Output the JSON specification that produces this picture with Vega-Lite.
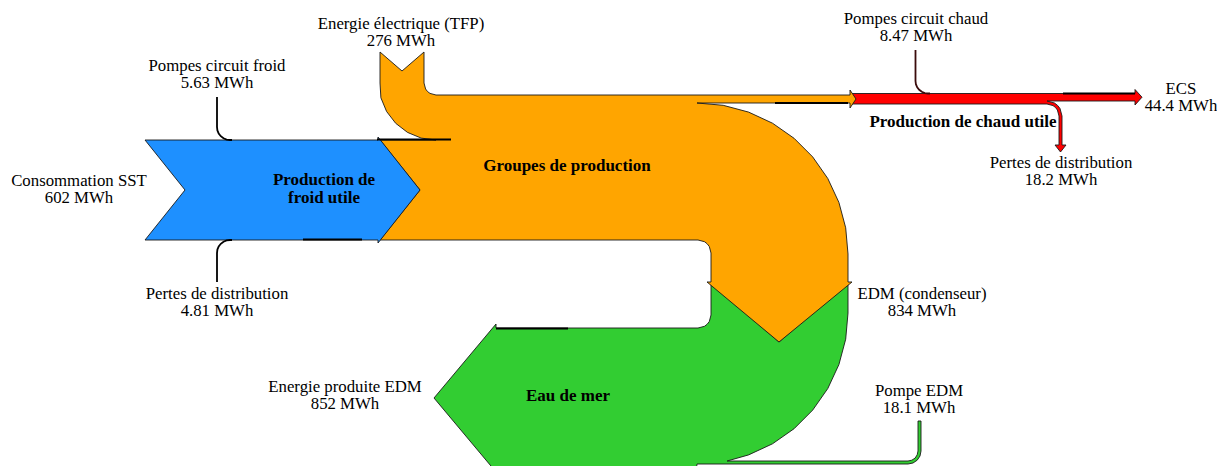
{
  "$schema": "https://vega.github.io/schema/vega-lite/v6.json",
  "width": 1217,
  "height": 466,
  "padding": 0,
  "autosize": {"type": "none"},
  "background": "white",
  "view": {"stroke": null},
  "projection": {"type": "identity", "scale": 1, "translate": [0, 0]},
  "datasets": {
    "flux": [
      {"type": "Feature", "properties": {"flux": "Eau de mer"}, "geometry": {"type": "Polygon", "coordinates": [[[711,282],[779,342],[848,282],[848,313],[845.7,339.2],[838.9,364.6],[827.8,388.5],[812.7,410.1],[794.1,428.7],[772.5,443.8],[748.6,454.9],[727.1,461],[908,461],[911.8,460.2],[915.1,458.1],[917.2,454.8],[918,451],[918,421],[921,421],[921,451],[920,456],[917.2,460.2],[913,463],[908,464],[697,464],[695,480],[502.7,480],[434,398],[496,324],[496,328],[698,328],[704.5,326.3],[707.2,324.2],[709.3,321.5],[711,315],[711,282]]]}},
      {"type": "Feature", "properties": {"flux": "Production de chaud utile"}, "geometry": {"type": "Polygon", "coordinates": [[[850,93.5],[1135,93.5],[1135,89.5],[1142,97.2],[1135,105],[1135,101],[1047,101],[1054.5,103],[1057.6,105.4],[1060,108.5],[1062,116],[1062,145],[1066,145],[1060.5,152],[1055,145],[1059,145],[1059,116],[1057.4,110],[1055.5,107.5],[1053,105.6],[1047,104],[850,104],[855.5,98.7],[850,93.5]]]}},
      {"type": "Feature", "properties": {"flux": "Groupes de production"}, "geometry": {"type": "Polygon", "coordinates": [[[380,140],[420,190],[380,240],[698,240],[704.5,241.7],[707.2,243.8],[709.3,246.5],[711,253],[711,282],[707,282],[779,342],[852,282],[848,282],[848,254],[845.7,227.8],[838.9,202.4],[827.8,178.5],[812.7,156.9],[794.1,138.3],[772.5,123.2],[748.6,112.1],[723.2,105.3],[697,103],[850,103],[850,108],[856,99],[850,90],[850,95],[436,95],[430,93.4],[427.5,91.5],[425.6,89],[424,83],[424,52],[402,71],[380,52],[380,83],[380.9,97.8],[386.6,111.5],[395.7,123.3],[407.5,132.4],[421.2,138.1],[436,140],[380,140]]]}},
      {"type": "Feature", "properties": {"flux": "Production de froid utile"}, "geometry": {"type": "Polygon", "coordinates": [[[145,140],[378,140],[378,137],[420,190],[378,243],[378,240],[145,240],[185,190],[145,140]]]}}
    ],
    "traits": [
      {"type": "Feature", "properties": {"kind": "noir"}, "geometry": {"type": "LineString", "coordinates": [[377,139.5],[451,139.5]]}},
      {"type": "Feature", "properties": {"kind": "noir"}, "geometry": {"type": "LineString", "coordinates": [[303,239.5],[362,239.5]]}},
      {"type": "Feature", "properties": {"kind": "noir"}, "geometry": {"type": "LineString", "coordinates": [[775,103],[848,103]]}},
      {"type": "Feature", "properties": {"kind": "noir"}, "geometry": {"type": "LineString", "coordinates": [[1063,93.5],[1135,93.5]]}},
      {"type": "Feature", "properties": {"kind": "noir"}, "geometry": {"type": "LineString", "coordinates": [[496,328.5],[568,328.5]]}},
      {"type": "Feature", "properties": {"kind": "noir"}, "geometry": {"type": "LineString", "coordinates": [[217,97],[217,127],[217.4,130.4],[218.7,133.5],[220.8,136.2],[223.5,138.3],[226.6,139.6],[230,140],[232,140]]}},
      {"type": "Feature", "properties": {"kind": "noir"}, "geometry": {"type": "LineString", "coordinates": [[232,240],[230,240],[226.6,240.4],[223.5,241.7],[220.8,243.8],[218.7,246.5],[217.4,249.6],[217,253],[217,282]]}},
      {"type": "Feature", "properties": {"kind": "chaud"}, "geometry": {"type": "LineString", "coordinates": [[915.5,50],[915.5,81],[915.9,84.2],[917.2,87.3],[919.2,89.8],[921.8,91.8],[924.8,93.1],[928,93.5],[930,93.5]]}}
    ],
    "etiquettes": [
      {"label": "Energie électrique (TFP)\n276 MWh", "x": 401, "y": 24},
      {"label": "Pompes circuit froid\n5.63 MWh", "x": 217, "y": 66},
      {"label": "Consommation SST\n602 MWh", "x": 79, "y": 181},
      {"label": "Pertes de distribution\n4.81 MWh", "x": 217, "y": 294},
      {"label": "Pompes circuit chaud\n8.47 MWh", "x": 916, "y": 19},
      {"label": "ECS\n44.4 MWh", "x": 1181, "y": 89},
      {"label": "Pertes de distribution\n18.2 MWh", "x": 1061, "y": 163},
      {"label": "EDM (condenseur)\n834 MWh", "x": 922, "y": 294},
      {"label": "Energie produite EDM\n852 MWh", "x": 345, "y": 387},
      {"label": "Pompe EDM\n18.1 MWh", "x": 919, "y": 391}
    ],
    "titres": [
      {"label": "Production de\nfroid utile", "x": 324, "y": 180},
      {"label": "Groupes de production", "x": 567, "y": 166},
      {"label": "Production de chaud utile", "x": 963, "y": 122},
      {"label": "Eau de mer", "x": 568, "y": 396}
    ]
  },
  "layer": [
    {
      "data": {"name": "flux"},
      "mark": {"type": "geoshape", "stroke": "#1a1a1a", "strokeWidth": 0.9},
      "encoding": {
        "color": {
          "field": "properties.flux",
          "type": "nominal",
          "scale": {
            "domain": ["Eau de mer", "Production de chaud utile", "Groupes de production", "Production de froid utile"],
            "range": ["#32cd32", "#ff0000", "#ffa500", "#1e90ff"]
          },
          "legend": null
        }
      }
    },
    {
      "data": {"name": "traits"},
      "mark": {"type": "geoshape", "filled": false, "strokeWidth": 1.8},
      "encoding": {
        "stroke": {
          "field": "properties.kind",
          "type": "nominal",
          "scale": {"domain": ["noir", "chaud"], "range": ["#000000", "#3a0c0c"]},
          "legend": null
        }
      }
    },
    {
      "data": {"name": "etiquettes"},
      "mark": {"type": "text", "font": "Liberation Serif", "fontSize": 16.8, "lineBreak": "\n", "lineHeight": 17, "align": "center", "baseline": "middle", "color": "#000000"},
      "encoding": {
        "longitude": {"field": "x", "type": "quantitative"},
        "latitude": {"field": "y", "type": "quantitative"},
        "text": {"field": "label", "type": "nominal"}
      }
    },
    {
      "data": {"name": "titres"},
      "mark": {"type": "text", "font": "Liberation Serif", "fontSize": 17, "fontWeight": "bold", "lineBreak": "\n", "lineHeight": 18, "align": "center", "baseline": "middle", "color": "#000000"},
      "encoding": {
        "longitude": {"field": "x", "type": "quantitative"},
        "latitude": {"field": "y", "type": "quantitative"},
        "text": {"field": "label", "type": "nominal"}
      }
    }
  ]
}
